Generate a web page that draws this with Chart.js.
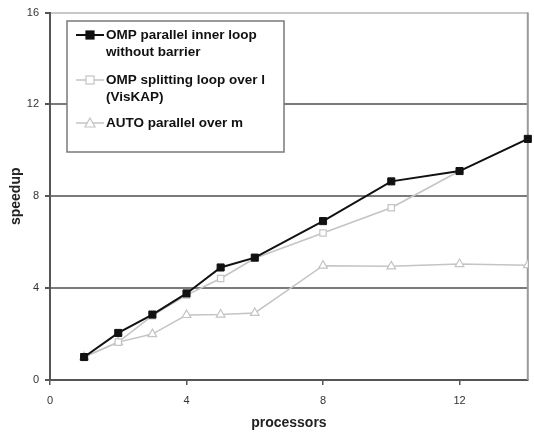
<!DOCTYPE html>
<html>
<head>
<meta charset="utf-8">
<script src="https://cdn.jsdelivr.net/npm/chart.js@4/dist/chart.umd.min.js"></script>
<style>
  html, body { margin: 0; padding: 0; background: #fff; }
  #wrap { width: 534px; height: 432px; }
</style>
</head>
<body>
<div id="wrap"><canvas id="c" width="534" height="432"></canvas></div>
<script>
// dati
const processors = [1, 2, 3, 4, 5, 6, 8, 10, 12, 14];
const ompInner = [1.0, 2.05, 2.85, 3.77, 4.9, 5.33, 6.92, 8.65, 9.1, 10.5];
const ompSplit = [1.0, 1.65, 2.8, 3.7, 4.42, 5.3, 6.4, 7.5, 9.1, 10.5];
const autoPar = [1.0, 1.65, 2.0, 2.83, 2.85, 2.92, 4.98, 4.95, 5.05, 5.0];
const seriesNames = [
  ["OMP parallel inner loop", "without barrier"],
  ["OMP splitting loop over l", "(VisKAP)"],
  ["AUTO parallel over m"]
];
const xTicks = [0, 4, 8, 12];
const yTicks = [0, 4, 8, 12, 16];

const FONT = "'Liberation Sans', Arial, sans-serif";

function pts(ys) {
  return processors.map((x, i) => ({ x: x, y: ys[i] }));
}

// legenda disegnata a mano (etichette su due righe)
const boxLegend = {
  id: "boxLegend",
  afterDraw(chart) {
    const ctx = chart.ctx;
    const x0 = 67, y0 = 21, w = 217, h = 131;
    ctx.save();
    ctx.fillStyle = "#fff";
    ctx.fillRect(x0, y0, w, h);
    ctx.strokeStyle = "#7a7a7a";
    ctx.lineWidth = 1.5;
    ctx.strokeRect(x0, y0, w, h);
    const rows = [35, 80, 123];
    ctx.font = "bold 13.5px " + FONT;
    ctx.textBaseline = "middle";
    chart.data.datasets.forEach((ds, i) => {
      const y = rows[i];
      ctx.strokeStyle = ds.borderColor;
      ctx.lineWidth = ds.borderWidth;
      ctx.beginPath();
      ctx.moveTo(76, y);
      ctx.lineTo(104, y);
      ctx.stroke();
      ctx.fillStyle = ds.pointBackgroundColor;
      ctx.strokeStyle = ds.borderColor;
      ctx.lineWidth = 1.2;
      if (ds.pointStyle === "triangle") {
        ctx.beginPath();
        ctx.moveTo(90, y - 5);
        ctx.lineTo(95, y + 4);
        ctx.lineTo(85, y + 4);
        ctx.closePath();
        ctx.fill();
        ctx.stroke();
      } else {
        ctx.fillRect(86, y - 4, 8, 8);
        ctx.strokeRect(86, y - 4, 8, 8);
      }
      ctx.fillStyle = "#111";
      seriesNames[i].forEach((t, k) => ctx.fillText(t, 106, y + k * 17));
    });
    ctx.restore();
  }
};

// bordo destro dell'area del grafico
const plotFrame = {
  id: "plotFrame",
  beforeDatasetsDraw(chart) {
    const a = chart.chartArea, ctx = chart.ctx;
    ctx.save();
    ctx.strokeStyle = "#9a9a9a";
    ctx.lineWidth = 2;
    ctx.beginPath();
    ctx.moveTo(a.right, a.top);
    ctx.lineTo(a.right, a.bottom);
    ctx.stroke();
    ctx.restore();
  }
};

new Chart(document.getElementById("c"), {
  type: "scatter",
  data: {
    datasets: [
      {
        label: seriesNames[0].join(" "),
        data: pts(ompInner),
        showLine: true,
        clip: false,
        borderColor: "#111",
        borderWidth: 2,
        pointStyle: "rect",
        pointRadius: 5,
        pointBackgroundColor: "#111",
        pointBorderColor: "#111",
        pointBorderWidth: 1,
        order: 1
      },
      {
        label: seriesNames[1].join(" "),
        data: pts(ompSplit),
        showLine: true,
        clip: false,
        borderColor: "#c4c4c4",
        borderWidth: 1.5,
        pointStyle: "rect",
        pointRadius: 4.5,
        pointBackgroundColor: "#fff",
        pointBorderColor: "#c4c4c4",
        pointBorderWidth: 1.2,
        order: 2
      },
      {
        label: seriesNames[2].join(" "),
        data: pts(autoPar),
        showLine: true,
        borderColor: "#c4c4c4",
        borderWidth: 1.5,
        pointStyle: "triangle",
        pointRadius: 5,
        pointBackgroundColor: "#fff",
        pointBorderColor: "#c4c4c4",
        pointBorderWidth: 1.2,
        order: 3
      }
    ]
  },
  options: {
    responsive: false,
    animation: false,
    layout: { padding: { top: 12, right: 3, left: 0, bottom: 0 } },
    plugins: {
      legend: { display: false },
      tooltip: { enabled: false }
    },
    scales: {
      x: {
        type: "linear",
        min: 0,
        max: 14,
        afterBuildTicks(s) { s.ticks = xTicks.map(v => ({ value: v })); },
        afterFit(s) { s.height = 52; },
        grid: { display: true, drawOnChartArea: false, drawTicks: true, tickLength: 5, color: "#555", lineWidth: 1.5 },
        border: { display: true, color: "#555", width: 2 },
        ticks: { color: "#333", font: { family: FONT, size: 11 }, padding: 9, maxRotation: 0 },
        title: { display: true, text: "processors", color: "#222", font: { family: FONT, size: 14, weight: "bold" }, padding: { top: 4, bottom: 0 } }
      },
      y: {
        type: "linear",
        min: 0,
        max: 16,
        afterBuildTicks(s) { s.ticks = yTicks.map(v => ({ value: v })); },
        afterFit(s) { s.width = 50; },
        grid: {
          color: (c) => c.tick && c.tick.value === 16 ? "#c8c8c8" : (c.tick && c.tick.value === 0 ? "rgba(0,0,0,0)" : "#7a7a7a"),
          lineWidth: 2,
          drawTicks: true,
          tickLength: 5,
          tickColor: "#555"
        },
        border: { display: true, color: "#555", width: 2 },
        ticks: { color: "#333", font: { family: FONT, size: 11 }, padding: 6 },
        title: { display: true, text: "speedup", color: "#222", font: { family: FONT, size: 14, weight: "bold" }, padding: { top: 8, bottom: 4 } }
      }
    }
  },
  plugins: [plotFrame, boxLegend]
});
</script>
</body>
</html>
